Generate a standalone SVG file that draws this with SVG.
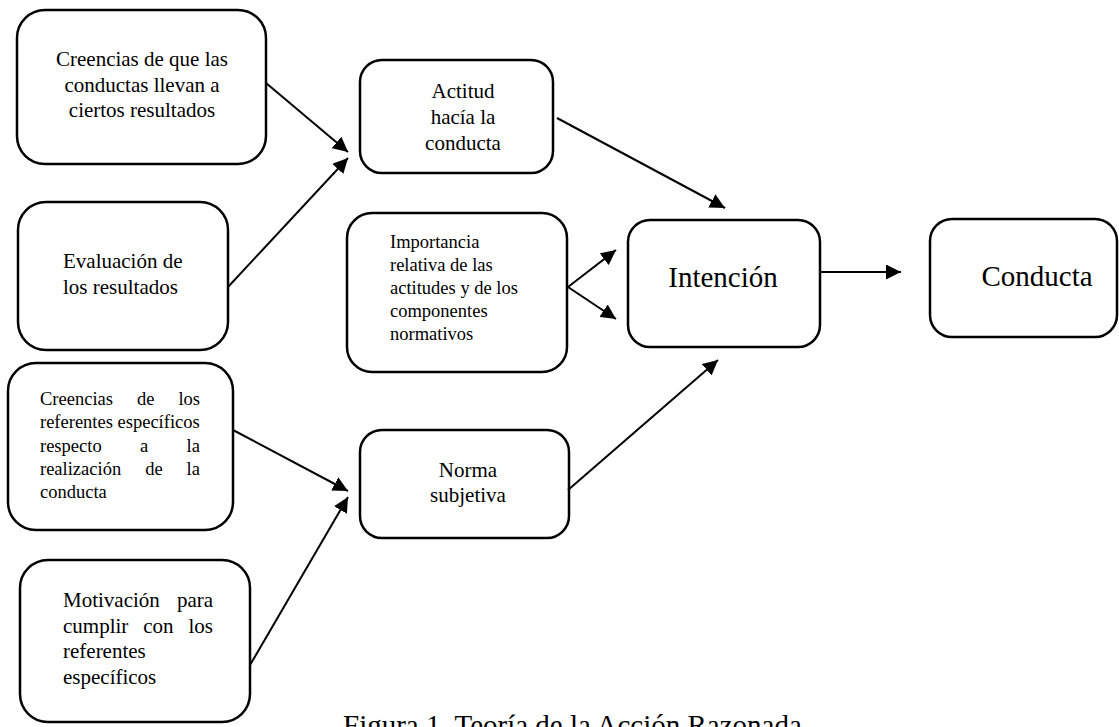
<svg xmlns="http://www.w3.org/2000/svg" width="1119" height="727" viewBox="0 0 1119 727">
<style>
.box{fill:#fff;stroke:#000;stroke-width:2.5}
.t{font-family:"Liberation Serif","Times New Roman",serif;fill:#000}
.c{text-anchor:middle}
.f21{font-size:21px}
.f18{font-size:18.5px}
.big{font-size:29px}
.con line{stroke:#000;stroke-width:2;marker-end:url(#ah)}
</style>
<defs>
<marker id="ah" markerUnits="userSpaceOnUse" markerWidth="16" markerHeight="15" refX="15" refY="7.5" orient="auto">
<path d="M0,0 L15,7.5 L0,15 z" fill="#000"/>
</marker>
</defs>
<rect width="1119" height="727" fill="#fff"/>
<g id="creencias-resultados">
<rect class="box" x="17" y="10" width="249" height="154" rx="28"/>
<text class="t f21 c" x="142"><tspan x="142" y="66">Creencias de que las</tspan><tspan x="142" y="91.5">conductas llevan a</tspan><tspan x="142" y="117">ciertos resultados</tspan></text>
</g>
<g id="evaluacion">
<rect class="box" x="18" y="202" width="210" height="148" rx="28"/>
<text class="t f21"><tspan x="63" y="268">Evaluación de</tspan><tspan x="63" y="293.5">los resultados</tspan></text>
</g>
<g id="creencias-referentes">
<rect class="box" x="8" y="363" width="225" height="167" rx="28"/>
<text class="t f18"><tspan x="40" y="405">Creencias</tspan><tspan x="137" y="405">de</tspan><tspan x="178.4" y="405">los</tspan><tspan x="40" y="428.3">referentes específicos</tspan><tspan x="40" y="451.6">respecto</tspan><tspan x="140" y="451.6">a</tspan><tspan x="186.6" y="451.6">la</tspan><tspan x="40" y="474.9">realización</tspan><tspan x="145.2" y="474.9">de</tspan><tspan x="186.6" y="474.9">la</tspan><tspan x="40" y="498.2">conducta</tspan></text>
</g>
<g id="motivacion">
<rect class="box" x="20" y="560" width="230" height="162" rx="28"/>
<text class="t f21"><tspan x="63" y="607">Motivación</tspan><tspan x="176.9" y="607">para</tspan><tspan x="63" y="632.5">cumplir</tspan><tspan x="143.3" y="632.5">con</tspan><tspan x="188.5" y="632.5">los</tspan><tspan x="63" y="658">referentes</tspan><tspan x="63" y="683.5">específicos</tspan></text>
</g>
<g id="actitud">
<rect class="box" x="360" y="60" width="193" height="113" rx="22"/>
<text class="t f21 c"><tspan x="463" y="98">Actitud</tspan><tspan x="463" y="124">hacía la</tspan><tspan x="463" y="150">conducta</tspan></text>
</g>
<g id="importancia">
<rect class="box" x="347" y="213" width="220" height="159" rx="25"/>
<text class="t f18"><tspan x="390" y="248">Importancia</tspan><tspan x="390" y="271">relativa de las</tspan><tspan x="390" y="294">actitudes y de los</tspan><tspan x="390" y="317">componentes</tspan><tspan x="390" y="340">normativos</tspan></text>
</g>
<g id="norma">
<rect class="box" x="360" y="430" width="209" height="108" rx="22"/>
<text class="t f21 c"><tspan x="468" y="477">Norma</tspan><tspan x="468" y="502">subjetiva</tspan></text>
</g>
<g id="intencion">
<rect class="box" x="628" y="220" width="192" height="127" rx="22"/>
<text class="t big c" x="723" y="287">Intención</text>
</g>
<g id="conducta">
<rect class="box" x="930" y="219" width="187" height="118" rx="22"/>
<text class="t big c" x="1037" y="286">Conducta</text>
</g>
<g id="connectors" class="con">
<line x1="266" y1="83" x2="348" y2="152"/>
<line x1="228" y1="287" x2="348" y2="158"/>
<line x1="557" y1="118" x2="725" y2="208"/>
<line x1="568" y1="287" x2="616" y2="250"/>
<line x1="568" y1="287" x2="616" y2="319"/>
<line x1="820" y1="272" x2="901" y2="272"/>
<line x1="233" y1="430" x2="348" y2="491"/>
<line x1="250" y1="665" x2="348" y2="497"/>
<line x1="568" y1="490" x2="718" y2="360"/>
</g>
<text id="caption" class="t" font-size="29" x="343" y="735">Figura 1. Teoría de la Acción Razonada</text>
</svg>
